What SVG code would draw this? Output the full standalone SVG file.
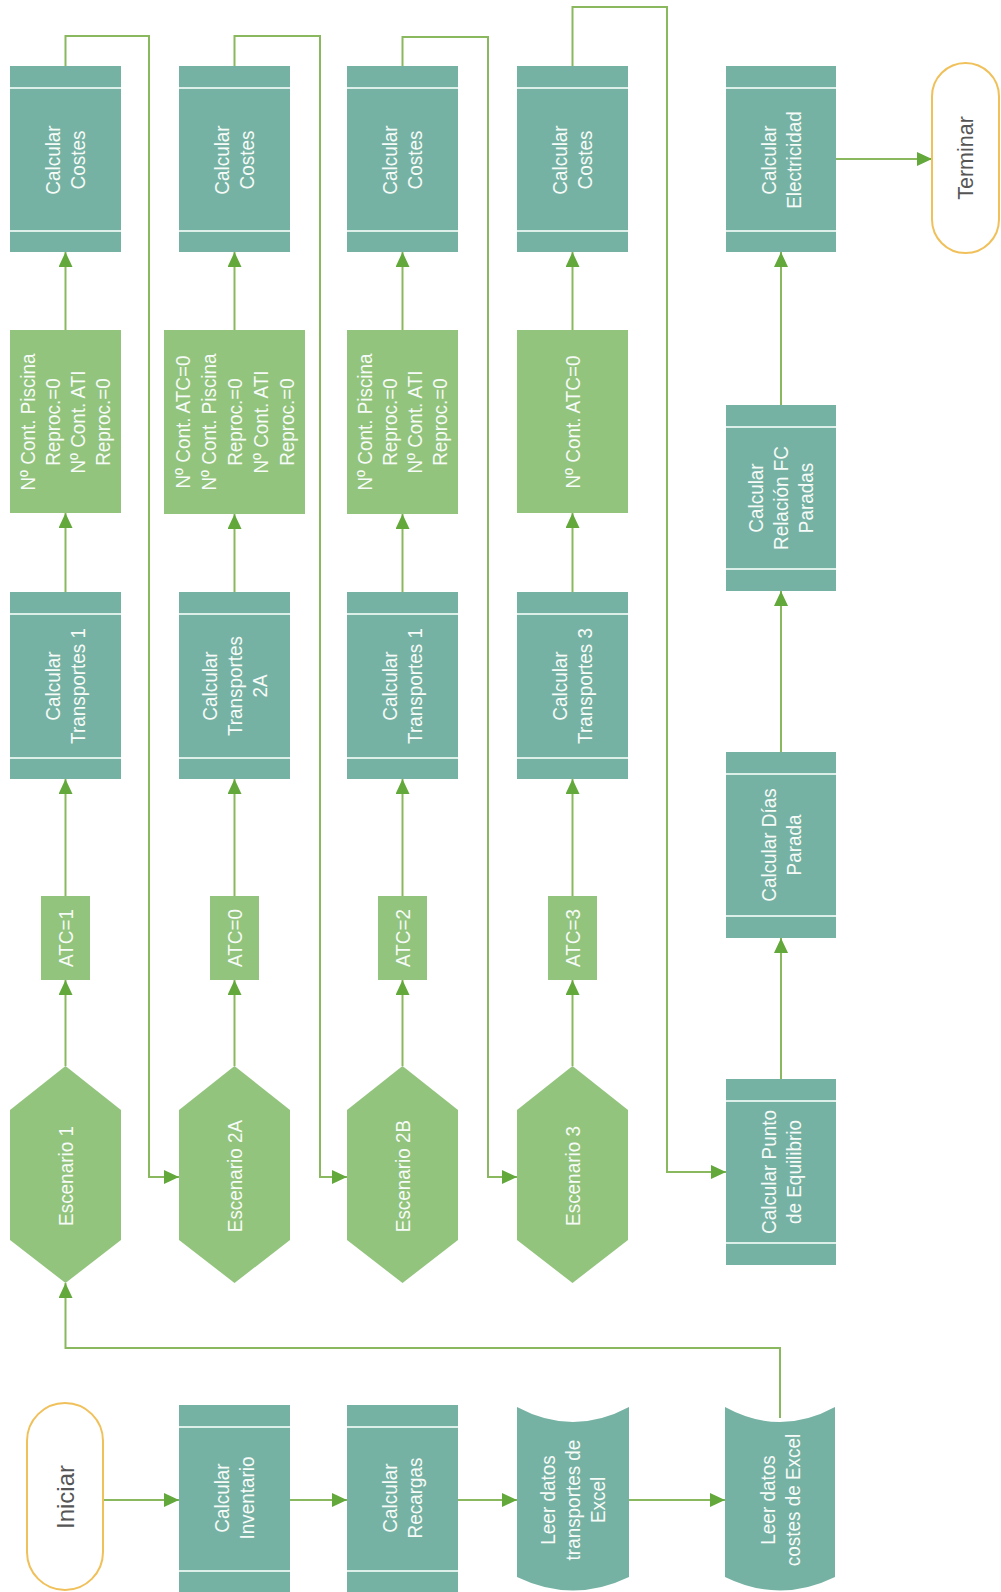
<svg xmlns="http://www.w3.org/2000/svg" width="1001" height="1592" viewBox="0 0 1001 1592">
  <style>
    .proc { fill: #76b2a4; }
    .stripe { stroke: #dcefe8; stroke-width: 2; }
    .cond { fill: #93c47d; }
    .term { fill: #ffffff; stroke: #f0c05a; stroke-width: 2; }
    .lbl { font-family: "Liberation Sans", Arial, sans-serif; font-size: 21px; fill: #f6fbf8; text-anchor: middle; dominant-baseline: central; }
    .tlbl { font-family: "Liberation Sans", Arial, sans-serif; font-size: 21.5px; fill: #555555; text-anchor: middle; dominant-baseline: central; }
    .conn { fill: none; stroke: #8ab85e; stroke-width: 2; }
  </style>
  <defs>
    <marker id="ah" markerUnits="userSpaceOnUse" markerWidth="15" markerHeight="14" refX="15" refY="7" orient="auto">
      <path d="M0,0 L15,7 L0,14 z" fill="#62a83a"/>
    </marker>
  </defs>
  <rect width="1001" height="1592" fill="#ffffff"/>

  <!-- connectors -->
  <g id="connectors" class="conn">
    <!-- scenario loops: costs of one scenario lead to the next scenario -->
    <path d="M65.5,66 V36 H149 V1177 H179" marker-end="url(#ah)"/>
    <path d="M234.5,66 V36 H320 V1177 H347" marker-end="url(#ah)"/>
    <path d="M402.5,66 V37 H488 V1177 H517" marker-end="url(#ah)"/>
    <path d="M572.5,66 V7 H667 V1172 H726" marker-end="url(#ah)"/>
    <!-- column 1 -->
    <path d="M65.5,1066 V980" marker-end="url(#ah)"/>
    <path d="M65.5,896 V779" marker-end="url(#ah)"/>
    <path d="M65.5,592 V513" marker-end="url(#ah)"/>
    <path d="M65.5,330 V252" marker-end="url(#ah)"/>
    <!-- column 2 -->
    <path d="M234.5,1066 V980" marker-end="url(#ah)"/>
    <path d="M234.5,896 V779" marker-end="url(#ah)"/>
    <path d="M234.5,592 V514" marker-end="url(#ah)"/>
    <path d="M234.5,330 V252" marker-end="url(#ah)"/>
    <!-- column 3 -->
    <path d="M402.5,1066 V980" marker-end="url(#ah)"/>
    <path d="M402.5,896 V779" marker-end="url(#ah)"/>
    <path d="M402.5,592 V514" marker-end="url(#ah)"/>
    <path d="M402.5,330 V252" marker-end="url(#ah)"/>
    <!-- column 4 -->
    <path d="M572.5,1066 V980" marker-end="url(#ah)"/>
    <path d="M572.5,896 V779" marker-end="url(#ah)"/>
    <path d="M572.5,592 V513" marker-end="url(#ah)"/>
    <path d="M572.5,330 V252" marker-end="url(#ah)"/>
    <!-- final column -->
    <path d="M781,1079 V938" marker-end="url(#ah)"/>
    <path d="M781,752 V591" marker-end="url(#ah)"/>
    <path d="M781,405 V252" marker-end="url(#ah)"/>
    <path d="M836,159 H932" marker-end="url(#ah)"/>
    <!-- start row -->
    <path d="M103,1500 H179" marker-end="url(#ah)"/>
    <path d="M290,1500 H347" marker-end="url(#ah)"/>
    <path d="M458,1500 H517" marker-end="url(#ah)"/>
    <path d="M629,1500 H725" marker-end="url(#ah)"/>
    <path d="M780,1418 V1348 H65.5 V1283" marker-end="url(#ah)"/>
  </g>

  <!-- start row -->
  <g id="iniciar">
    <rect class="term" x="27" y="1403" width="76" height="187" rx="38" ry="38"/>
    <text class="tlbl" style="font-size:24px" transform="translate(65,1497) rotate(-90)">Iniciar</text>
  </g>
  <g id="calc-inventario">
    <rect class="proc" x="179" y="1405" width="111" height="187"/>
    <line class="stripe" x1="179" y1="1427" x2="290" y2="1427"/>
    <line class="stripe" x1="179" y1="1571" x2="290" y2="1571"/>
    <text class="lbl" transform="translate(234.5,1498) rotate(-90) scale(0.9,1)"><tspan x="0" y="-12.5">Calcular</tspan><tspan x="0" y="12.5">Inventario</tspan></text>
  </g>
  <g id="calc-recargas">
    <rect class="proc" x="347" y="1405" width="111" height="187"/>
    <line class="stripe" x1="347" y1="1427" x2="458" y2="1427"/>
    <line class="stripe" x1="347" y1="1571" x2="458" y2="1571"/>
    <text class="lbl" transform="translate(402.5,1498) rotate(-90) scale(0.9,1)"><tspan x="0" y="-12.5">Calcular</tspan><tspan x="0" y="12.5">Recargas</tspan></text>
  </g>
  <g id="leer-transportes">
    <path class="proc" d="M517,1407 Q573,1437 629,1407 L629,1577 Q573,1604 517,1577 Z"/>
    <text class="lbl" transform="translate(573,1500) rotate(-90) scale(0.9,1)"><tspan x="0" y="-25">Leer datos</tspan><tspan x="0" y="0">transportes de</tspan><tspan x="0" y="25">Excel</tspan></text>
  </g>
  <g id="leer-costes">
    <path class="proc" d="M725,1407 Q780,1437 835,1407 L835,1577 Q780,1604 725,1577 Z"/>
    <text class="lbl" transform="translate(780,1500) rotate(-90) scale(0.9,1)"><tspan x="0" y="-12.5">Leer datos</tspan><tspan x="0" y="12.5">costes de Excel</tspan></text>
  </g>

  <!-- scenarios -->
  <g id="escenario-1">
    <polygon class="cond" points="65.5,1066 121,1110 121,1240 65.5,1283 10,1240 10,1110"/>
    <text class="lbl" transform="translate(65.5,1176) rotate(-90) scale(0.9,1)">Escenario 1</text>
  </g>
  <g id="escenario-2a">
    <polygon class="cond" points="234.5,1066 290,1110 290,1240 234.5,1283 179,1240 179,1110"/>
    <text class="lbl" transform="translate(234.5,1176) rotate(-90) scale(0.9,1)">Escenario 2A</text>
  </g>
  <g id="escenario-2b">
    <polygon class="cond" points="402.5,1066 458,1110 458,1240 402.5,1283 347,1240 347,1110"/>
    <text class="lbl" transform="translate(402.5,1176) rotate(-90) scale(0.9,1)">Escenario 2B</text>
  </g>
  <g id="escenario-3">
    <polygon class="cond" points="572.5,1066 628,1110 628,1240 572.5,1283 517,1240 517,1110"/>
    <text class="lbl" transform="translate(572.5,1176) rotate(-90) scale(0.9,1)">Escenario 3</text>
  </g>

  <!-- ATC values -->
  <g id="atc-1">
    <rect class="cond" x="41" y="896" width="49" height="84"/>
    <text class="lbl" transform="translate(65.5,938) rotate(-90) scale(0.9,1)">ATC=1</text>
  </g>
  <g id="atc-0">
    <rect class="cond" x="210" y="896" width="49" height="84"/>
    <text class="lbl" transform="translate(234.5,938) rotate(-90) scale(0.9,1)">ATC=0</text>
  </g>
  <g id="atc-2">
    <rect class="cond" x="378" y="896" width="49" height="84"/>
    <text class="lbl" transform="translate(402.5,938) rotate(-90) scale(0.9,1)">ATC=2</text>
  </g>
  <g id="atc-3">
    <rect class="cond" x="548" y="896" width="49" height="84"/>
    <text class="lbl" transform="translate(572.5,938) rotate(-90) scale(0.9,1)">ATC=3</text>
  </g>

  <!-- transport calculations -->
  <g id="transportes-1a">
    <rect class="proc" x="10" y="592" width="111" height="187"/>
    <line class="stripe" x1="10" y1="614" x2="121" y2="614"/>
    <line class="stripe" x1="10" y1="758" x2="121" y2="758"/>
    <text class="lbl" transform="translate(65.5,686) rotate(-90) scale(0.9,1)"><tspan x="0" y="-12.5">Calcular</tspan><tspan x="0" y="12.5">Transportes 1</tspan></text>
  </g>
  <g id="transportes-2a">
    <rect class="proc" x="179" y="592" width="111" height="187"/>
    <line class="stripe" x1="179" y1="614" x2="290" y2="614"/>
    <line class="stripe" x1="179" y1="758" x2="290" y2="758"/>
    <text class="lbl" transform="translate(234.5,686) rotate(-90) scale(0.9,1)"><tspan x="0" y="-25">Calcular</tspan><tspan x="0" y="0">Transportes</tspan><tspan x="0" y="25">2A</tspan></text>
  </g>
  <g id="transportes-1b">
    <rect class="proc" x="347" y="592" width="111" height="187"/>
    <line class="stripe" x1="347" y1="614" x2="458" y2="614"/>
    <line class="stripe" x1="347" y1="758" x2="458" y2="758"/>
    <text class="lbl" transform="translate(402.5,686) rotate(-90) scale(0.9,1)"><tspan x="0" y="-12.5">Calcular</tspan><tspan x="0" y="12.5">Transportes 1</tspan></text>
  </g>
  <g id="transportes-3">
    <rect class="proc" x="517" y="592" width="111" height="187"/>
    <line class="stripe" x1="517" y1="614" x2="628" y2="614"/>
    <line class="stripe" x1="517" y1="758" x2="628" y2="758"/>
    <text class="lbl" transform="translate(572.5,686) rotate(-90) scale(0.9,1)"><tspan x="0" y="-12.5">Calcular</tspan><tspan x="0" y="12.5">Transportes 3</tspan></text>
  </g>

  <!-- container settings -->
  <g id="cont-1">
    <rect class="cond" x="10" y="330" width="111" height="183"/>
    <text class="lbl" transform="translate(65.5,422) rotate(-90) scale(0.9,1)"><tspan x="0" y="-37.5">Nº Cont. Piscina</tspan><tspan x="0" y="-12.5">Reproc.=0</tspan><tspan x="0" y="12.5">Nº Cont. ATI</tspan><tspan x="0" y="37.5">Reproc.=0</tspan></text>
  </g>
  <g id="cont-2a">
    <rect class="cond" x="164" y="330" width="141" height="184"/>
    <text class="lbl" transform="translate(234.5,422) rotate(-90) scale(0.9,1)"><tspan x="0" y="-52">Nº Cont. ATC=0</tspan><tspan x="0" y="-26">Nº Cont. Piscina</tspan><tspan x="0" y="0">Reproc.=0</tspan><tspan x="0" y="26">Nº Cont. ATI</tspan><tspan x="0" y="52">Reproc.=0</tspan></text>
  </g>
  <g id="cont-2b">
    <rect class="cond" x="347" y="330" width="111" height="184"/>
    <text class="lbl" transform="translate(402.5,422) rotate(-90) scale(0.9,1)"><tspan x="0" y="-37.5">Nº Cont. Piscina</tspan><tspan x="0" y="-12.5">Reproc.=0</tspan><tspan x="0" y="12.5">Nº Cont. ATI</tspan><tspan x="0" y="37.5">Reproc.=0</tspan></text>
  </g>
  <g id="cont-3">
    <rect class="cond" x="517" y="330" width="111" height="183"/>
    <text class="lbl" transform="translate(572.5,422) rotate(-90) scale(0.9,1)">Nº Cont. ATC=0</text>
  </g>

  <!-- cost calculations -->
  <g id="costes-1">
    <rect class="proc" x="10" y="66" width="111" height="186"/>
    <line class="stripe" x1="10" y1="88" x2="121" y2="88"/>
    <line class="stripe" x1="10" y1="231" x2="121" y2="231"/>
    <text class="lbl" transform="translate(65.5,160) rotate(-90) scale(0.9,1)"><tspan x="0" y="-12.5">Calcular</tspan><tspan x="0" y="12.5">Costes</tspan></text>
  </g>
  <g id="costes-2a">
    <rect class="proc" x="179" y="66" width="111" height="186"/>
    <line class="stripe" x1="179" y1="88" x2="290" y2="88"/>
    <line class="stripe" x1="179" y1="231" x2="290" y2="231"/>
    <text class="lbl" transform="translate(234.5,160) rotate(-90) scale(0.9,1)"><tspan x="0" y="-12.5">Calcular</tspan><tspan x="0" y="12.5">Costes</tspan></text>
  </g>
  <g id="costes-2b">
    <rect class="proc" x="347" y="66" width="111" height="186"/>
    <line class="stripe" x1="347" y1="88" x2="458" y2="88"/>
    <line class="stripe" x1="347" y1="231" x2="458" y2="231"/>
    <text class="lbl" transform="translate(402.5,160) rotate(-90) scale(0.9,1)"><tspan x="0" y="-12.5">Calcular</tspan><tspan x="0" y="12.5">Costes</tspan></text>
  </g>
  <g id="costes-3">
    <rect class="proc" x="517" y="66" width="111" height="186"/>
    <line class="stripe" x1="517" y1="88" x2="628" y2="88"/>
    <line class="stripe" x1="517" y1="231" x2="628" y2="231"/>
    <text class="lbl" transform="translate(572.5,160) rotate(-90) scale(0.9,1)"><tspan x="0" y="-12.5">Calcular</tspan><tspan x="0" y="12.5">Costes</tspan></text>
  </g>

  <!-- final column -->
  <g id="punto-equilibrio">
    <rect class="proc" x="726" y="1079" width="110" height="186"/>
    <line class="stripe" x1="726" y1="1101" x2="836" y2="1101"/>
    <line class="stripe" x1="726" y1="1243" x2="836" y2="1243"/>
    <text class="lbl" transform="translate(781,1172) rotate(-90) scale(0.9,1)"><tspan x="0" y="-12.5">Calcular Punto</tspan><tspan x="0" y="12.5">de Equilibrio</tspan></text>
  </g>
  <g id="dias-parada">
    <rect class="proc" x="726" y="752" width="110" height="186"/>
    <line class="stripe" x1="726" y1="774" x2="836" y2="774"/>
    <line class="stripe" x1="726" y1="916" x2="836" y2="916"/>
    <text class="lbl" transform="translate(781,845) rotate(-90) scale(0.9,1)"><tspan x="0" y="-12.5">Calcular Días</tspan><tspan x="0" y="12.5">Parada</tspan></text>
  </g>
  <g id="relacion-fc">
    <rect class="proc" x="726" y="405" width="110" height="186"/>
    <line class="stripe" x1="726" y1="427" x2="836" y2="427"/>
    <line class="stripe" x1="726" y1="569" x2="836" y2="569"/>
    <text class="lbl" transform="translate(781,498) rotate(-90) scale(0.9,1)"><tspan x="0" y="-25">Calcular</tspan><tspan x="0" y="0">Relación FC</tspan><tspan x="0" y="25">Paradas</tspan></text>
  </g>
  <g id="electricidad">
    <rect class="proc" x="726" y="66" width="110" height="186"/>
    <line class="stripe" x1="726" y1="88" x2="836" y2="88"/>
    <line class="stripe" x1="726" y1="231" x2="836" y2="231"/>
    <text class="lbl" transform="translate(781,160) rotate(-90) scale(0.9,1)"><tspan x="0" y="-12.5">Calcular</tspan><tspan x="0" y="12.5">Electricidad</tspan></text>
  </g>
  <g id="terminar">
    <rect class="term" x="932" y="63" width="67" height="190" rx="33.5" ry="33.5"/>
    <text class="tlbl" transform="translate(965.5,158) rotate(-90)">Terminar</text>
  </g>
</svg>
